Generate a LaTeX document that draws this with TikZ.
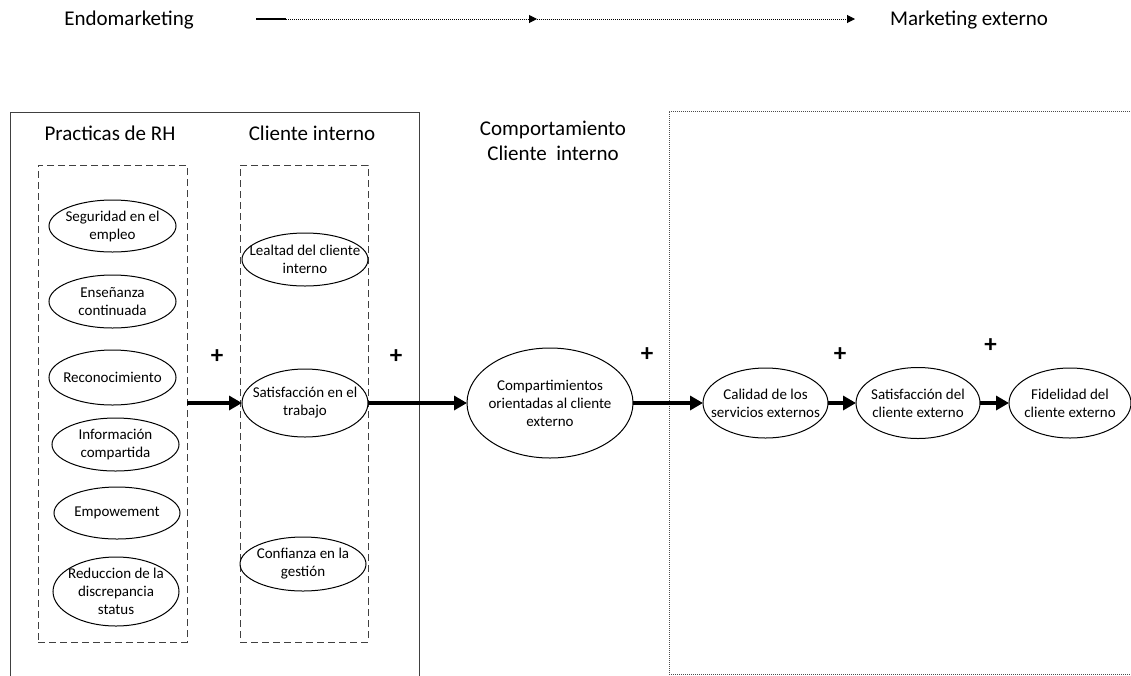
\documentclass[tikz,border=0pt]{standalone}
\usepackage{fontspec}
\setmainfont{Carlito}
\usetikzlibrary{arrows.meta,shapes.geometric}
\begin{document}
\begin{tikzpicture}[x=1pt,y=-1pt,
  ell/.style={draw, ellipse, inner sep=0pt, outer sep=0pt, line width=1pt},
  etxt/.style={align=center, font=\fontsize{15}{18}\selectfont, inner sep=0pt},
  ttl/.style={font=\fontsize{21}{25}\selectfont, inner sep=0pt},
  plus/.style={font=\fontsize{25}{28}\selectfont\bfseries, inner sep=0pt},
  dbox/.style={draw=black!75, dash pattern=on 7pt off 4pt, line width=1pt, inner sep=0pt, outer sep=0pt},
  conn/.style={line width=3.2pt, -{Triangle[length=13pt,width=14pt]}},
  topline/.style={line width=1pt, dash pattern=on 1pt off 1pt, -{Triangle[length=8pt,width=8pt]}},
]
\clip (0,0) rectangle (1131,675);
\fill[white] (0,0) rectangle (1131,675);

% top line
\node[ttl, anchor=base] (endo) at (129,25) {Endomarketing};
\node[ttl, anchor=base] (mext) at (969,25) {Marketing externo};
\coordinate (ta) at (256,19);
\coordinate (tb) at (286,19);
\coordinate (tm) at (537,19);
\coordinate (te) at (855,19);
\draw[line width=1.4pt] (ta) -- (tb);
\draw[topline] (tb) -- (tm);
\draw[topline] (tm) -- (te);

% frames
\draw[black!75, line width=1pt] (10,676) -- (10,112) -- (419,112) -- (419,676);
\draw[black!70, line width=1pt, dash pattern=on 1pt off 1pt] (1132,111) -- (669,111) -- (669,674) -- (1132,674);

% titles
\node[ttl, anchor=base] (t1) at (110,140) {Practicas de RH};
\node[ttl, anchor=base] (t2) at (312,140) {Cliente interno};
\node[ttl, anchor=base] (t3) at (553,135) {Comportamiento};
\node[ttl, anchor=base] (t4) at (553,160) {Cliente~~interno};

% dashed boxes
\node[dbox, anchor=north west, minimum width=149pt, minimum height=477pt] (hr) at (38,165) {};
\node[dbox, anchor=north west, minimum width=128pt, minimum height=477pt] (ci) at (240,165) {};

% left ellipses
\node[ell, minimum width=127pt, minimum height=52pt] (seg) at (112.5,226) {};
\node[etxt] at (seg) {Seguridad en el\\empleo};
\node[ell, minimum width=127pt, minimum height=53pt] (ens) at (112.5,301.5) {};
\node[etxt] at (ens) {Enseñanza\\continuada};
\node[ell, minimum width=127pt, minimum height=55pt] (rec) at (112.5,377.5) {};
\node[etxt] at (rec) {Reconocimiento};
\node[ell, minimum width=127pt, minimum height=53pt] (inf) at (115.5,444.5) {};
\node[etxt] at (inf) {Información\\compartida};
\node[ell, minimum width=126pt, minimum height=52pt] (emp) at (117,513) {};
\node[etxt] at (emp) {Empowement};
\node[ell, minimum width=126pt, minimum height=69pt] (red) at (116,591.5) {};
\node[etxt] at (red) {Reduccion de la\\discrepancia\\status};

% cliente interno ellipses
\node[ell, minimum width=126pt, minimum height=53pt] (leal) at (305,259.5) {};
\node[etxt] at (leal) {Lealtad del cliente\\interno};
\node[ell, minimum width=126pt, minimum height=68pt] (sat) at (305,403) {};
\node[etxt] at (sat) {Satisfacción en el\\trabajo};
\node[ell, minimum width=126pt, minimum height=54pt] (conf) at (303,564) {};
\node[etxt] at (conf) {Confianza en la\\gestión};

% right chain
\node[ell, minimum width=166pt, minimum height=110pt] (comp) at (550,403) {};
\node[etxt] at (comp) {Compartimientos\\orientadas al cliente\\externo};
\node[ell, minimum width=125pt, minimum height=70pt] (cal) at (765.5,403) {};
\node[etxt] at (cal) {Calidad de los\\servicios externos};
\node[ell, minimum width=124pt, minimum height=71pt] (sext) at (918,403) {};
\node[etxt] at (sext) {Satisfacción del\\cliente externo};
\node[ell, minimum width=122pt, minimum height=70pt] (fid) at (1070,403) {};
\node[etxt] at (fid) {Fidelidad del\\cliente externo};

% connectors
\draw[conn] (sat -| hr.east) -- (sat);
\draw[conn] (sat) -- (comp);
\draw[conn] (comp) -- (cal);
\draw[conn] (cal) -- (sext);
\draw[conn] (sext) -- (fid);

% plus signs
\node[plus] (p1) at (217,357) {+};
\node[plus] (p2) at (396,357) {+};
\node[plus] (p3) at (647,355) {+};
\node[plus] (p4) at (840,355) {+};
\node[plus] (p5) at (990.5,346) {+};
\end{tikzpicture}
\end{document}
